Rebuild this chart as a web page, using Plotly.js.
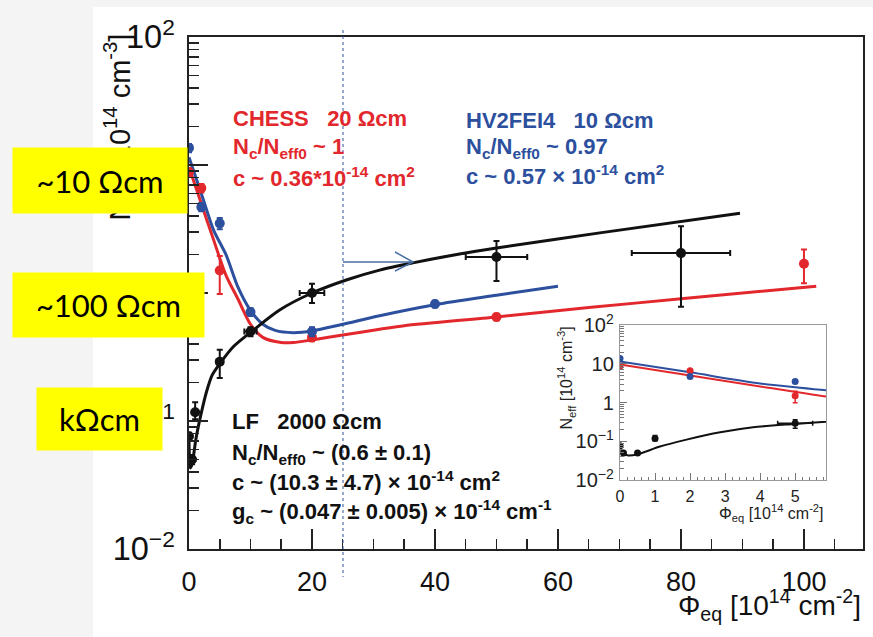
<!DOCTYPE html>
<html><head><meta charset="utf-8">
<script src="https://cdn.plot.ly/plotly-3.0.1.min.js"></script>
<style>html,body{margin:0;padding:0;background:#f4f4f4;} #chart{width:873px;height:637px;}</style>
</head><body><div id="chart"></div>
<script>
// ---- measured points ----
const chessPhi = [0, 2, 5, 20, 50, 100];
const chessNeff = [8.8, 6.6, 1.5, 0.45, 0.65, 1.69];
const chessErrUp = [0.6, 0.5, 0.45, 0.03, 0.04, 0.5];
const chessErrDown = [0.6, 0.5, 0.52, 0.03, 0.04, 0.5];

const hvPhi = [0, 2, 5, 10, 20, 40];
const hvNeff = [13.6, 4.7, 3.5, 0.71, 0.50, 0.82];
const hvErr = [1.0, 0.35, 0.35, 0.05, 0.04, 0.05];

const lfPhi = [0, 0.1, 0.5, 1, 5, 10, 20, 50, 80];
const lfNeff = [0.076, 0.05, 0.05, 0.117, 0.29, 0.50, 1.0, 1.91, 2.05];
const lfErrUp = [0.005, 0.004, 0.004, 0.023, 0.07, 0.04, 0.18, 0.64, 1.28];
const lfErrDown = [0.005, 0.004, 0.004, 0.014, 0.073, 0.04, 0.165, 0.67, 1.27];
const lfErrPhi = [0, 0, 0, 0, 0.5, 1, 2, 5, 8];

// ---- fit curves ----
const chessFitPhi = [0, 2, 4, 6, 8, 10, 12, 15, 17, 20, 25, 31, 35, 50, 65, 80, 102];
const chessFitNeff = [9.6, 5.0, 2.6, 1.38, 0.89, 0.57, 0.45, 0.41, 0.41, 0.43, 0.47, 0.52, 0.555, 0.65, 0.77, 0.90, 1.13];
const hvFitPhi = [0, 2, 4, 6, 8, 10, 12, 14, 17, 20, 25, 31, 40, 50, 60];
const hvFitNeff = [11.5, 6.0, 3.1, 2.0, 1.1, 0.73, 0.57, 0.51, 0.49, 0.505, 0.57, 0.665, 0.81, 0.96, 1.13];
const lfFitPhi = [0, 0.1, 0.23, 0.5, 1.14, 1.9, 2.86, 3.8, 5, 7.2, 10.4, 14.8, 20, 25.7, 31, 36.4, 44, 50, 66.8, 89.6];
const lfFitNeff = [0.069, 0.048, 0.043, 0.046, 0.073, 0.11, 0.17, 0.23, 0.28, 0.38, 0.51, 0.74, 1.0, 1.27, 1.51, 1.72, 2.02, 2.25, 2.95, 4.2];

// ---- labels ----
const xTitle = 'Φ<sub>eq</sub> [10<sup>14</sup> cm<sup>-2</sup>]';
const yTitle = 'N<sub>eff</sub> [10<sup>14</sup> cm<sup>-3</sup>]';
const chessText = ['<b>CHESS\u00a0\u00a0\u00a020 Ωcm</b>', '<b>N<sub>c</sub>/N<sub>eff0</sub> ~ 1</b>', '<b>c ~ 0.36*10<sup>-14</sup> cm<sup>2</sup></b>'];
const hvText = ['<b>HV2FEI4\u00a0\u00a0\u00a010 Ωcm</b>', '<b>N<sub>c</sub>/N<sub>eff0</sub> ~ 0.97</b>', '<b>c ~ 0.57 × 10<sup>-14</sup> cm<sup>2</sup></b>'];
const lfText = ['<b>LF\u00a0\u00a0\u00a02000 Ωcm</b>', '<b>N<sub>c</sub>/N<sub>eff0</sub> ~ (0.6 ± 0.1)</b>', '<b>c ~ (10.3 ± 4.7) × 10<sup>-14</sup> cm<sup>2</sup></b>', '<b>g<sub>c</sub> ~ (0.047 ± 0.005) × 10<sup>-14</sup> cm<sup>-1</sup></b>'];
const boxText = ['~10 Ωcm', '~100 Ωcm', 'kΩcm'];

const RED = '#e2282c', BLUE = '#2c4f9e', BLACK = '#111111';
const FONT = 'Liberation Sans, Arial, Helvetica, sans-serif';

// pixel -> paper helpers (plot area 189..863 x 37..549)
const L = 189, R = 863, T = 37, B = 549;
const px = v => (v - L) / (R - L);
const py = v => (B - v) / (B - T);

function fit(x, y, c, xa, ya, w) {
  return {x, y, mode: 'lines', line: {color: c, width: w, shape: 'spline', smoothing: 0.8}, xaxis: xa, yaxis: ya, hoverinfo: 'skip'};
}
function pts(x, y, up, down, ex, c, xa, ya, s, th) {
  const t = {x, y, mode: 'markers', marker: {color: c, size: s}, xaxis: xa, yaxis: ya,
    error_y: {type: 'data', symmetric: false, array: up, arrayminus: down, color: c, thickness: th, width: th + 1}};
  if (ex) t.error_x = {type: 'data', array: ex, color: c, thickness: th, width: th + 1};
  return t;
}

const data = [
  fit(chessFitPhi, chessFitNeff, RED, 'x', 'y', 3),
  fit(hvFitPhi, hvFitNeff, BLUE, 'x', 'y', 3),
  fit(lfFitPhi, lfFitNeff, BLACK, 'x', 'y', 3),
  pts(chessPhi, chessNeff, chessErrUp, chessErrDown, null, RED, 'x', 'y', 10, 2),
  pts(hvPhi, hvNeff, hvErr, hvErr, null, BLUE, 'x', 'y', 10, 2),
  pts(lfPhi, lfNeff, lfErrUp, lfErrDown, lfErrPhi, BLACK, 'x', 'y', 10, 2),
  fit(chessFitPhi, chessFitNeff, RED, 'x2', 'y2', 2),
  fit(hvFitPhi, hvFitNeff, BLUE, 'x2', 'y2', 2),
  fit(lfFitPhi, lfFitNeff, BLACK, 'x2', 'y2', 2),
  pts(chessPhi, chessNeff, chessErrUp, chessErrDown, null, RED, 'x2', 'y2', 7, 1.5),
  pts(hvPhi, hvNeff, hvErr, hvErr, null, BLUE, 'x2', 'y2', 7, 1.5),
  pts(lfPhi, lfNeff, lfErrUp, lfErrDown, lfErrPhi, BLACK, 'x2', 'y2', 7, 1.5)
];

const ann = [];
function txt(text, x, y, size, color, opts) {
  ann.push(Object.assign({text, x: px(x), y: py(y), xref: 'paper', yref: 'paper', xanchor: 'left', yanchor: 'middle',
    showarrow: false, font: {family: FONT, size, color}}, opts || {}));
}
// axis titles
txt(yTitle, 119, 32, 29, BLACK, {xanchor: 'center', yanchor: 'top', textangle: -90});
txt(xTitle, 863, 605, 28, BLACK, {xanchor: 'right'});
txt(yTitle, 566, 325, 16, '#222', {xanchor: 'center', yanchor: 'top', textangle: -90});
txt(xTitle, 826, 513, 16, '#222', {xanchor: 'right'});
// fit descriptions
chessText.forEach((t, i) => txt(t, 231, [118, 148, 177][i], 22, RED));
hvText.forEach((t, i) => txt(t, 464, [120, 148, 175][i], 22, BLUE));
lfText.forEach((t, i) => txt(t, 230, [421, 454, 481, 511][i], 22, BLACK));
// yellow boxes
const boxes = [[13, 187, 148, 213], [13, 204, 273, 337], [37, 162, 388, 450]];
boxes.forEach((b, i) => {
  ann.push({text: boxText[i], x: px((b[0] + b[1]) / 2), y: py((b[2] + b[3]) / 2), xref: 'paper', yref: 'paper',
    xanchor: 'center', yanchor: 'middle', width: b[1] - b[0], height: b[3] - b[2], borderpad: 0,
    bgcolor: '#ffff00', showarrow: false, font: {family: 'Lato, Carlito, Open Sans, sans-serif', size: 31, color: '#000'}});
});

const shapes = [
  {type: 'rect', xref: 'paper', yref: 'paper', x0: px(93), x1: px(873), y0: py(637), y1: py(7), fillcolor: '#ffffff', line: {width: 0}, layer: 'below'},
  {type: 'line', xref: 'paper', yref: 'paper', x0: px(343), x1: px(343), y0: py(30), y1: py(577), line: {color: '#2f5597', width: 1, dash: 'dot'}, layer: 'above'},
  {type: 'line', xref: 'paper', yref: 'paper', x0: px(343), x1: px(413), y0: py(262), y1: py(262), line: {color: '#4a6fa5', width: 1.5}, layer: 'above'},
  {type: 'path', xref: 'paper', yref: 'paper', path: `M ${px(395)},${py(252)} L ${px(413)},${py(262)} L ${px(395)},${py(271)}`, line: {color: '#4a6fa5', width: 1.5}, layer: 'above'}
];

const axCommon = {showgrid: false, zeroline: false, showline: true, mirror: true, ticks: 'inside'};
const layout = {
  width: 873, height: 637,
  margin: {l: L, r: 873 - R, t: T, b: 637 - B, pad: 0},
  paper_bgcolor: '#f4f4f4', plot_bgcolor: '#ffffff',
  showlegend: false,
  xaxis: Object.assign({}, axCommon, {domain: [0, 1], anchor: 'y', range: [0, 109.6], dtick: 20, tick0: 0,
    linecolor: '#222', linewidth: 2, ticklen: 20, tickwidth: 1.5, tickcolor: '#222',
    minor: {dtick: 5, ticks: 'inside', ticklen: 10, tickwidth: 1.5, tickcolor: '#222', showgrid: false},
    tickfont: {family: FONT, size: 27, color: '#111'}, ticklabelstandoff: 8}),
  yaxis: Object.assign({}, axCommon, {domain: [0, 1], anchor: 'x', type: 'log', range: [-2, 2], dtick: 1, exponentformat: 'power',
    linecolor: '#222', linewidth: 2, ticklen: 19, tickwidth: 1.5, tickcolor: '#222',
    minor: {dtick: 'D1', ticks: 'inside', ticklen: 10, tickwidth: 1.5, tickcolor: '#222', showgrid: false},
    tickfont: {family: FONT, size: 26, color: '#111'}, ticklabelstandoff: 7}),
  xaxis2: Object.assign({}, axCommon, {domain: [px(620), px(826)], anchor: 'y2', range: [0, 5.88], dtick: 1, tick0: 0,
    linecolor: '#999', linewidth: 1, ticklen: 7, tickcolor: '#777',
    minor: {dtick: 0.2, ticks: 'inside', ticklen: 3.5, tickcolor: '#777', showgrid: false},
    tickfont: {family: FONT, size: 16, color: '#222'}, ticklabelstandoff: 2}),
  yaxis2: Object.assign({}, axCommon, {domain: [py(480), py(325)], anchor: 'x2', type: 'log', range: [-2, 2], dtick: 1, exponentformat: 'power',
    linecolor: '#999', linewidth: 1, ticklen: 7, tickcolor: '#777',
    minor: {dtick: 'D1', ticks: 'inside', ticklen: 3.5, tickcolor: '#777', showgrid: false},
    tickfont: {family: FONT, size: 16, color: '#222'}, ticklabelstandoff: 2}),
  annotations: ann,
  shapes: shapes
};

Plotly.newPlot('chart', data, layout, {staticPlot: true, displayModeBar: false});
</script>
</body></html>
